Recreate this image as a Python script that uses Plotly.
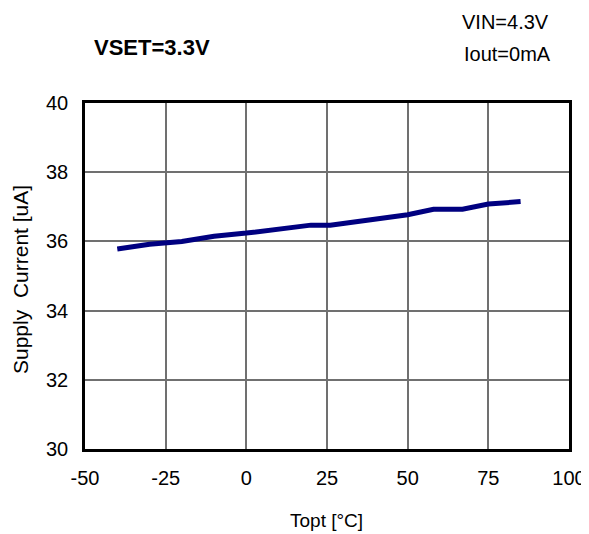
import plotly.graph_objects as go

temps = [-40, -30, -20, -10, 0, 10, 20, 26, 40, 50, 58, 67, 75, 85]
current = [35.78, 35.92, 36.0, 36.15, 36.24, 36.34, 36.47, 36.47, 36.63, 36.77, 36.93, 36.93, 37.08, 37.15]
x_ticks = [-50, -25, 0, 25, 50, 75, 100]
x_labels = ["-50", "-25", "0", "25", "50", "75", "100"]
y_ticks = [30, 32, 34, 36, 38, 40]

OFF = 8  # page body margin
W, H = 589 - OFF, 534 - OFF
PL, PR, PT, PB = 85, 569, 103, 449  # plot area in page pixels

fig = go.Figure()
fig.add_trace(go.Scatter(x=temps, y=current, mode="lines",
                         line=dict(color="#000080", width=5), showlegend=False))

fig.update_layout(
    width=W, height=H,
    margin=dict(l=PL - OFF, r=W - (PR - OFF), t=PT - OFF, b=H - (PB - OFF),
                autoexpand=False),
    plot_bgcolor="white", paper_bgcolor="white",
    font=dict(family="Liberation Sans, Arial, sans-serif", size=17, color="black"),
    xaxis=dict(range=[-50, 100], tickvals=x_ticks, ticktext=x_labels, showgrid=True,
               gridcolor="#707070", gridwidth=1.5, showline=True, linecolor="black",
               linewidth=2.5, mirror=True, automargin=False, ticklabelstandoff=9,
               ticklabeloverflow="allow",
               zeroline=False, ticks="", tickfont=dict(size=20)),
    yaxis=dict(range=[30, 40], tickvals=y_ticks, showgrid=True, gridcolor="#707070",
               gridwidth=1.5, showline=True, linecolor="black", linewidth=2.5, mirror=True,
               zeroline=False, ticks="", tickfont=dict(size=20), automargin=False,
               ticklabelstandoff=10),
    annotations=[
        dict(text="<b>VSET=3.3V</b>", x=152, y=47, font=dict(size=22)),
        dict(text="VIN=4.3V", x=505, y=22, font=dict(size=20)),
        dict(text="Iout=0mA", x=507, y=54, font=dict(size=20)),
        dict(text="Topt [°C]", x=326, y=520, font=dict(size=19)),
        dict(text="Supply&nbsp;&nbsp;Current [uA]", x=20, y=280, textangle=-90,
             font=dict(size=21)),
    ],
)
pw, ph = PR - PL, PB - PT
for a in fig.layout.annotations:
    px, py = a.x, a.y
    a.x = (px - PL) / pw
    a.y = (PB - py) / ph
    a.xref = "paper"; a.yref = "paper"
    a.xanchor = "center"; a.yanchor = "middle"
    a.showarrow = False

fig.write_html("out.html",
               post_script="document.documentElement.style.overflow='hidden';"
                           "document.body.style.overflow='hidden';")
